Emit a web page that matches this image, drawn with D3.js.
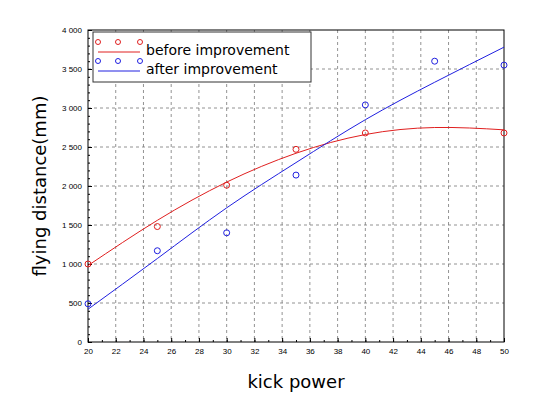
<!DOCTYPE html>
<html><head><meta charset="utf-8">
<script src="https://cdn.jsdelivr.net/npm/d3@7"></script>
<style>body{margin:0;background:#fff}</style></head>
<body><script>
const xs = [20, 25, 30, 35, 40, 45, 50]
const beforeX = [20, 25, 30, 35, 40, 50]
const beforeY = [1000, 1480, 2010, 2470, 2680, 2680]
const afterY = [490, 1170, 1400, 2140, 3040, 3600, 3550]
const beforeFit = [980, 1560, 2050, 2420, 2660, 2750, 2720]
const afterFit = [420, 1070, 1720, 2300, 2850, 3330, 3780]

const width = 533, height = 406
const pLeft = 88, pRight = 504, pTop = 30, pBottom = 342

let svg = d3.select("body").append("svg").attr("width", width).attr("height", height)
  .style("font-family", "DejaVu Sans")
let x = d3.scaleLinear().domain([20, 50]).range([pLeft, pRight])
let y = d3.scaleLinear().domain([0, 4000]).range([pBottom, pTop])

// grid
let g = svg.append("g").attr("stroke", "#777").attr("stroke-dasharray", "3,3").attr("stroke-width", 0.8)
d3.range(22, 50, 2).forEach(v => g.append("line").attr("x1", x(v)).attr("x2", x(v)).attr("y1", pTop).attr("y2", pBottom))
d3.range(500, 4000, 500).forEach(v => g.append("line").attr("x1", pLeft).attr("x2", pRight).attr("y1", y(v)).attr("y2", y(v)))

svg.append("g").attr("transform", `translate(0,${pBottom})`)
  .call(d3.axisBottom(x).tickValues(d3.range(20, 51, 2)).tickSize(-4).tickPadding(6))
  .call(a => a.selectAll("text").attr("font-size", 8))
svg.append("g").attr("transform", `translate(0,${pBottom})`)
  .call(d3.axisBottom(x).tickValues(d3.range(20, 51, 1)).tickSize(-2).tickFormat(""))
svg.append("g").attr("transform", `translate(${pLeft},0)`)
  .call(d3.axisLeft(y).tickValues(d3.range(0, 4001, 500)).tickSize(-4).tickPadding(6)
    .tickFormat(d => d3.format(",")(d).replace(",", " ")))
  .call(a => a.selectAll("text").attr("font-size", 8))
svg.append("g").attr("transform", `translate(${pLeft},0)`)
  .call(d3.axisLeft(y).tickValues(d3.range(0, 4001, 100)).tickSize(-2).tickFormat(""))
svg.selectAll(".domain").remove()
svg.append("rect").attr("x", pLeft).attr("y", pTop).attr("width", pRight - pLeft).attr("height", pBottom - pTop)
  .attr("fill", "none").attr("stroke", "#000")

let line = d3.line().x((d, i) => x(xs[i])).y(d => y(d)).curve(d3.curveNatural)
svg.append("path").attr("d", line(beforeFit)).attr("fill", "none").attr("stroke", "#e02020")
svg.append("path").attr("d", line(afterFit)).attr("fill", "none").attr("stroke", "#2020e0")
svg.selectAll(".pb").data(beforeY).enter().append("circle").attr("cx", (d, i) => x(beforeX[i])).attr("cy", d => y(d))
  .attr("r", 3).attr("fill", "none").attr("stroke", "#e02020")
svg.selectAll(".pa").data(afterY).enter().append("circle").attr("cx", (d, i) => x(xs[i])).attr("cy", d => y(d))
  .attr("r", 3).attr("fill", "none").attr("stroke", "#2020e0")

// legend
let lg = svg.append("g")
lg.append("rect").attr("x", 93).attr("y", 32).attr("width", 218).attr("height", 50).attr("fill", "#fff").attr("stroke", "#333")
;[["before improvement", "#e02020", 0], ["after improvement", "#2020e0", 19]].forEach(([t, c, dy]) => {
  ;[98, 118, 140].forEach(cx => lg.append("circle").attr("cx", cx).attr("cy", 42 + dy).attr("r", 2.5).attr("fill", "none").attr("stroke", c))
  lg.append("line").attr("x1", 98).attr("x2", 140).attr("y1", 52 + dy).attr("y2", 52 + dy).attr("stroke", c)
  lg.append("text").attr("x", 146).attr("y", 55 + dy).attr("font-size", 14).text(t)
})

svg.append("text").attr("x", (pLeft + pRight) / 2).attr("y", 388).attr("text-anchor", "middle").attr("font-size", 18).text("kick power")
svg.append("text").attr("transform", `translate(46,${(pTop + pBottom) / 2}) rotate(-90)`).attr("text-anchor", "middle")
  .attr("font-size", 18).text("flying distance(mm)")
</script></body></html>
